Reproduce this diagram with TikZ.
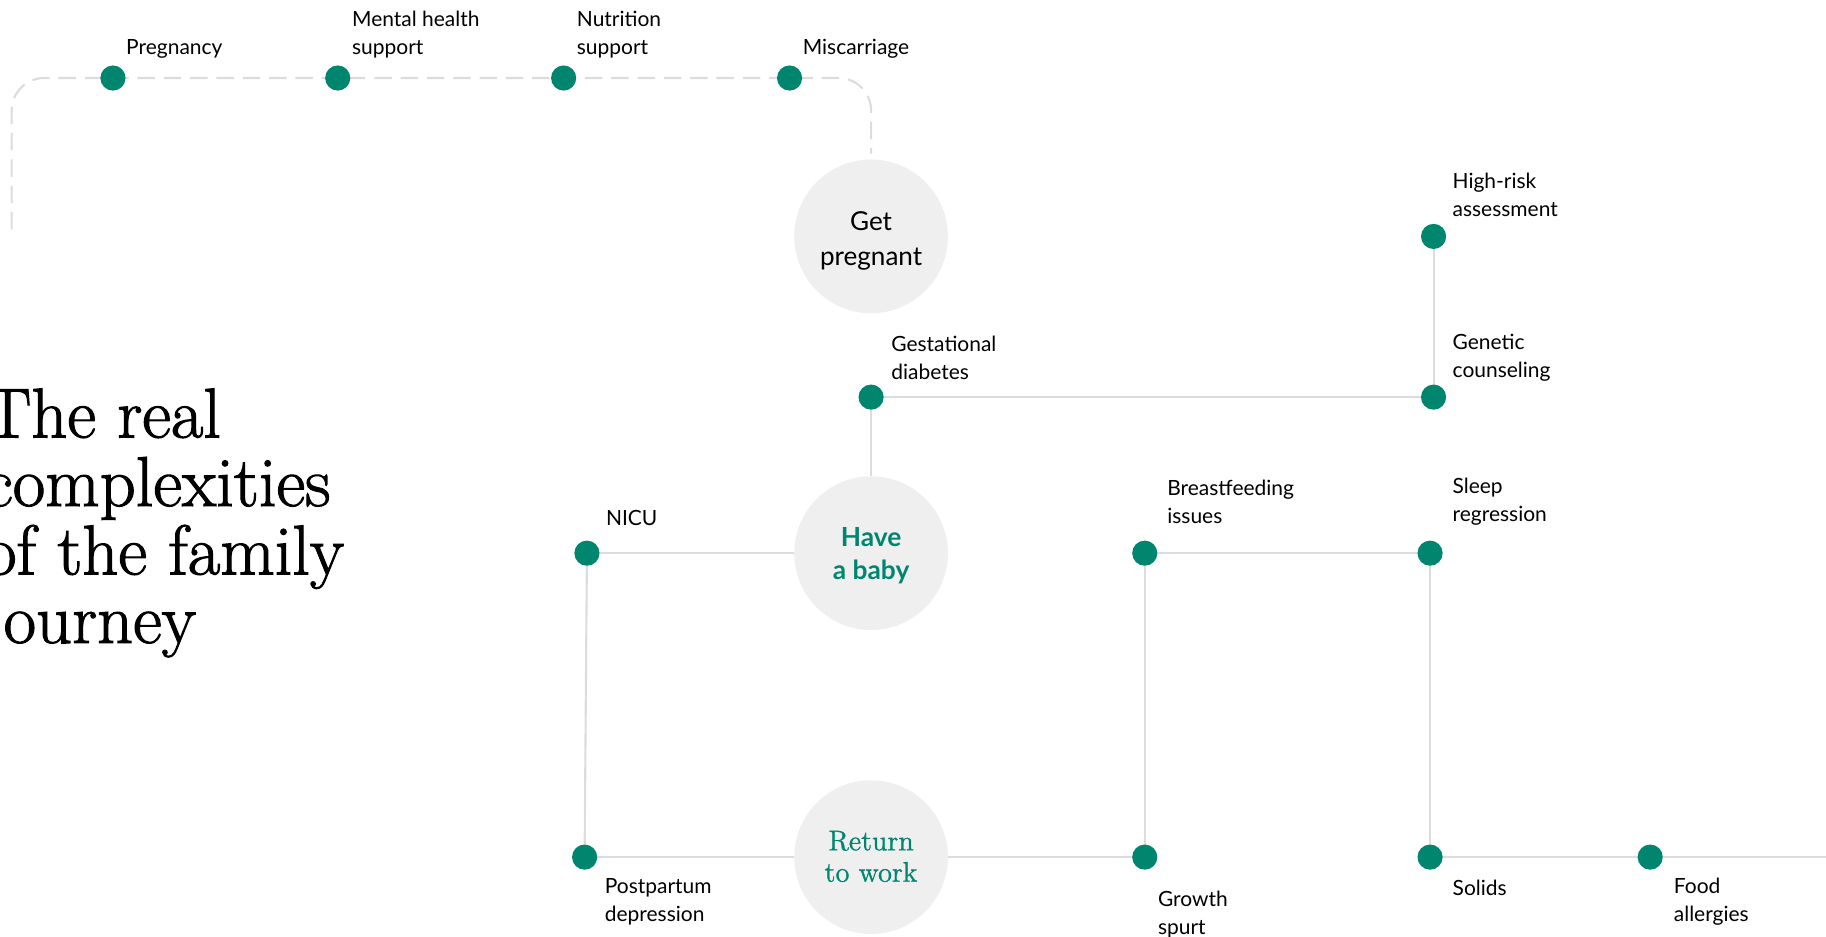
\documentclass[tikz,border=0pt]{standalone}
\usepackage{fontspec}
\newfontfamily\lato{Lato}
\newfontfamily\titlefont{Latin Modern Roman}[FakeBold=1.5]
\newfontfamily\serifgreen{Latin Modern Roman}[FakeBold=1]
\usetikzlibrary{backgrounds}
\definecolor{brandgreen}{HTML}{00866F}
\definecolor{circlegray}{HTML}{EFEFEF}
\definecolor{linegray}{HTML}{DCDCDC}
\tikzset{
  dot/.style={circle, fill=brandgreen, draw=none, inner sep=0pt, minimum size=10.8pt},
  stage/.style={circle, fill=circlegray, draw=none, inner sep=0pt, minimum size=66pt},
  stagetext/.style={align=center, inner sep=0pt},
  lbl/.style={anchor=west, align=left, inner sep=0pt, yshift=-1pt, font=\lato\fontsize{9}{12}\selectfont, text=black},
  conn/.style={draw=linegray, line width=0.9pt},
  dashline/.style={draw=linegray, line width=0.9pt, dash pattern=on 7.5pt off 3.8pt, rounded corners=14pt},
}
\begin{document}
\begin{tikzpicture}[x=0.5pt, y=-0.5pt]
\clip (0,0) rectangle (1568,804.6);
\useasboundingbox (0,0) rectangle (1568,804.6);

% title
\node[anchor=west, align=left, inner sep=0pt, font=\titlefont\fontsize{30.3}{29.4}\selectfont] (title) at (-14,449) {The real\\complexities\\of the family\\journey};

% stages
\node[stage, label={[name=gptext, stagetext, yshift=-2pt, font=\lato\fontsize{11.2}{15}\selectfont]center:{Get\\pregnant}}] (gp) at (748,203) {};
\node[stage, label={[name=babytext, stagetext, yshift=-1pt, font=\lato\bfseries\fontsize{11.3}{14}\selectfont, text=brandgreen]center:{Have\\a baby}}] (baby) at (748,475) {};
\node[stage, label={[name=worktext, stagetext, yshift=0.3pt, font=\serifgreen\fontsize{12.2}{13.5}\selectfont, text=brandgreen]center:{Return\\to work}}] (work) at (748,736) {};

% dots
\node[dot] (preg) at (97,67) {};
\node[dot] (mental) at (290,67) {};
\node[dot] (nutr) at (484,67) {};
\node[dot] (misc) at (678,67) {};
\node[dot] (high) at (1231,203) {};
\node[dot] (gest) at (748,341) {};
\node[dot] (genet) at (1231,341) {};
\node[dot] (nicu) at (504,475) {};
\node[dot] (breast) at (983,475) {};
\node[dot] (sleep) at (1228,475) {};
\node[dot] (postp) at (502,736) {};
\node[dot] (growth) at (983,736) {};
\node[dot] (solids) at (1228,736) {};
\node[dot] (food) at (1417,736) {};

\coordinate (dstart) at (10,197);
\coordinate (gptop) at (748,132);
\coordinate (rightend) at (1575,736);

% labels
\node[lbl] (lpreg) at (108,40) {Pregnancy};
\node[lbl] (lmental) at (302,28) {Mental health\\support};
\node[lbl] (lnutr) at (495,28) {Nutrition\\support};
\node[lbl] (lmisc) at (689,40) {Miscarriage};
\node[lbl] (lhigh) at (1247,165) {High-risk\\assessment};
\node[lbl] (lgest) at (765,305) {Gestational\\diabetes};
\node[lbl] (lgenet) at (1247,305) {Genetic\\counseling};
\node[lbl] (lnicu) at (520,443) {NICU};
\node[lbl] (lbreast) at (1002,429) {Breastfeeding\\issues};
\node[lbl] (lsleep) at (1247,429) {Sleep\\regression};
\node[lbl] (lpostp) at (519,772) {Postpartum\\depression};
\node[lbl] (lgrowth) at (994,783) {Growth\\spurt};
\node[lbl] (lsolids) at (1247,760) {Solids};
\node[lbl] (lfood) at (1437,772) {Food\\allergies};

\begin{scope}[on background layer]
\draw[dashline] (dstart) |- (preg.center) -- (misc.center) -| (gptop);
\draw[conn] (gest.center) -- (genet.center);
\draw[conn] (high.center) -- (genet.center);
\draw[conn] (gest.center) -- (baby);
\draw[conn] (nicu.center) -- (baby);
\draw[conn] (nicu.center) -- (postp.center);
\draw[conn] (postp.center) -- (work);
\draw[conn] (work) -- (growth.center);
\draw[conn] (breast.center) -- (sleep.center);
\draw[conn] (breast.center) -- (growth.center);
\draw[conn] (sleep.center) -- (solids.center);
\draw[conn] (solids.center) -- (food.center) -- (rightend);
\end{scope}
\end{tikzpicture}
\end{document}
